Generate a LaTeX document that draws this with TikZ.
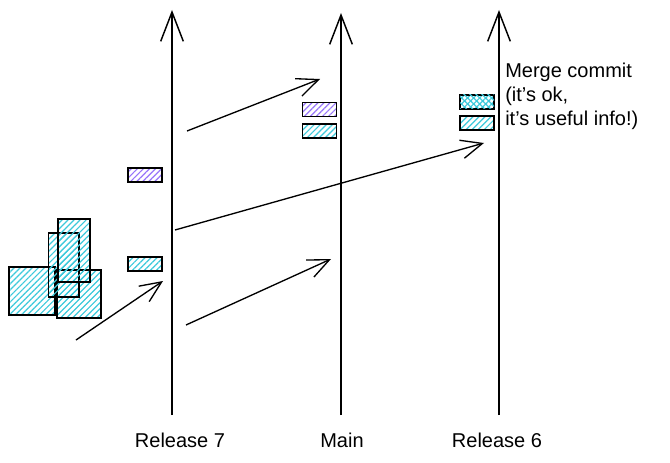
\documentclass[tikz,border=0pt]{standalone}
\usepackage{fontspec}
\setmainfont{Liberation Sans}
\usetikzlibrary{arrows.meta,positioning,patterns.meta}
\definecolor{cian}{HTML}{3BC9DB}
\definecolor{violeta}{HTML}{9775FA}

\begin{document}
\begin{tikzpicture}[x=0.75pt,y=-0.75pt,every node/.style={font=\fontsize{15}{18}\selectfont},
    branch/.style={line width=1.1pt,-{Straight Barb[length=22pt,width=17pt,line width=1.1pt]}},
    flow/.style={line width=1pt,-{Straight Barb[length=16pt,width=14pt,line width=1pt]}},
    hatch/.style={pattern={Lines[angle=45,distance=3.2pt,line width=0.9pt]},pattern color=#1},
    cross/.style={hatch=#1,postaction={pattern={Lines[angle=-45,distance=3.2pt,line width=0.9pt]},pattern color=#1}},
    commit/.style={draw,line width=1pt,minimum width=25.5pt,minimum height=10.5pt,inner sep=0pt},
    blob/.style={draw,line width=1pt,hatch=cian,inner sep=0pt}]
        \useasboundingbox (0,0) rectangle (670,463);
        % branches
        \coordinate (r7bot) at (172,415); \coordinate (r7top) at (172,10);
        \coordinate (mbot) at (341,415); \coordinate (mtop) at (341,13);
        \coordinate (r6bot) at (499,415); \coordinate (r6top) at (499,10);
        \draw[branch] (r7bot) -- (r7top);
        \draw[branch] (mbot) -- (mtop);
        \draw[branch] (r6bot) -- (r6top);
        \node (r7lbl) at (180,440) {Release 7};
        \node (mlbl) at (342,440) {Main};
        \node (r6lbl) at (497,440) {Release 6};
        % commits
        \node[commit,hatch=violeta] (r7a) at (145,175) {};
        \node[commit,hatch=cian] (r7b) at (145,264) {};
        \node[commit,hatch=violeta] (ma) at (319.5,109.5) {};
        \node[commit,hatch=cian] (mb) at (319.5,131) {};
        \node[commit,cross=cian] (r6a) at (477,102) {};
        \node[commit,hatch=cian] (r6b) at (477,123) {};
        \node[anchor=north west,align=left,inner sep=0pt] (note) at (505,63) {Merge commit\\(it's ok,\\it's useful info!)};
        % work in progress
        \node[blob,minimum width=34.5pt,minimum height=36pt] (wa) at (32,291) {};
        \node[blob,minimum width=33pt,minimum height=36pt] (wb) at (79,294) {};
        \node[blob,minimum width=23pt,minimum height=48pt] (wc) at (63.5,265) {};
        \node[blob,minimum width=24pt,minimum height=47pt] (wd) at (74,250.5) {};
        % picks
        \coordinate (p1s) at (187,131); \coordinate (p1e) at (320,79);
        \coordinate (p2s) at (175,230); \coordinate (p2e) at (484,143);
        \coordinate (p3s) at (186,325); \coordinate (p3e) at (331,259);
        \coordinate (p4s) at (76,340); \coordinate (p4e) at (163,281);
        \draw[flow] (p1s) -- (p1e);
        \draw[flow] (p2s) -- (p2e);
        \draw[flow] (p3s) -- (p3e);
        \draw[flow] (p4s) -- (p4e);
      \end{tikzpicture}
\end{document}
